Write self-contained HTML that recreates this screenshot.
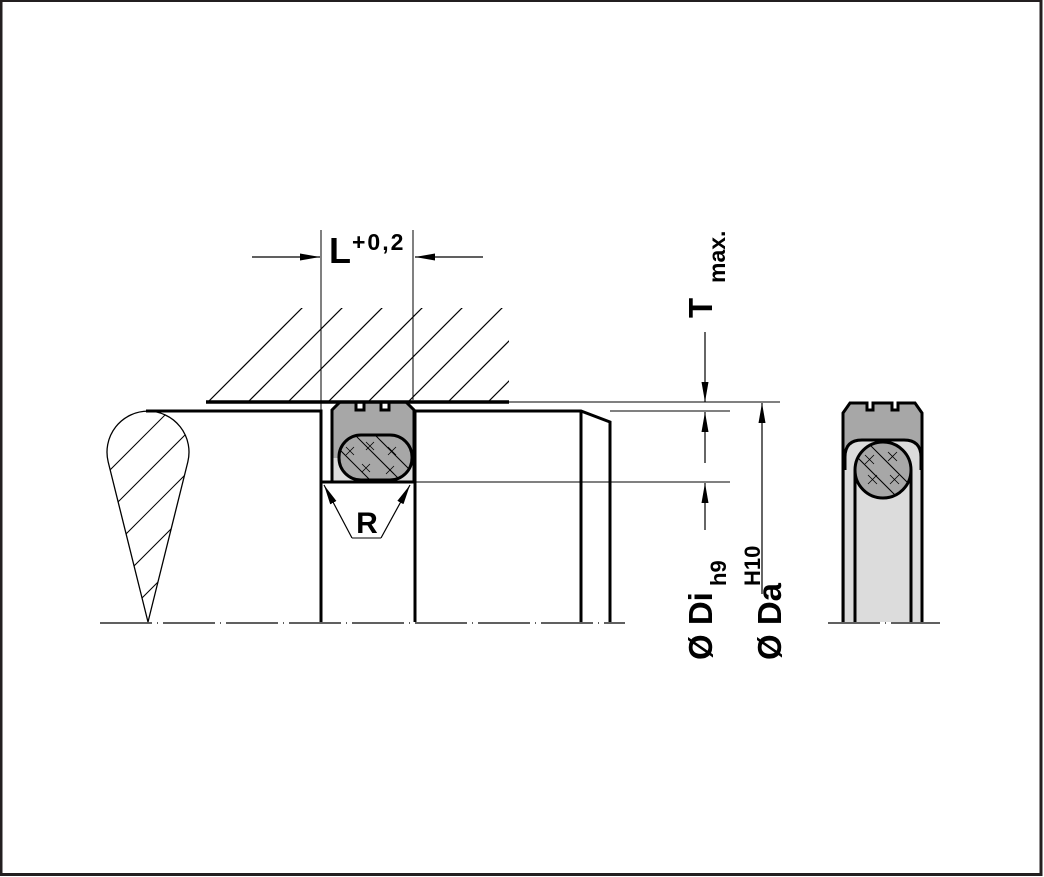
<!DOCTYPE html>
<html><head><meta charset="utf-8"><style>
html,body{margin:0;padding:0;background:#fff}
svg{display:block}
text{font-family:"Liberation Sans",Arial,sans-serif;font-weight:bold;fill:#000}
</style></head><body>
<svg width="1044" height="877" viewBox="0 0 1044 877" xmlns="http://www.w3.org/2000/svg">
<defs>
<marker id="ah" viewBox="0 0 20 7" refX="20" refY="3.5" markerWidth="20" markerHeight="7" markerUnits="userSpaceOnUse" orient="auto">
<path d="M0,0 L20,3.5 L0,7 Z" fill="#000"/></marker>
<clipPath id="hc"><rect x="206" y="308" width="303" height="93"/></clipPath>
<clipPath id="tc"><path d="M108.2,462 A41,41 0 1 1 187.8,462 L148,622 Z"/></clipPath>
<clipPath id="oc"><rect x="339" y="435" width="73" height="45" rx="22"/></clipPath>
<clipPath id="cc"><circle cx="883" cy="470" r="28"/></clipPath>
</defs>
<rect x="1" y="0.5" width="1040" height="874" fill="none" stroke="#231f20" stroke-width="3"/>

<g clip-path="url(#hc)" stroke="#000" stroke-width="1.2">
<line x1="150" y1="460" x2="310" y2="300"/>
<line x1="190" y1="460" x2="350" y2="300"/>
<line x1="230" y1="460" x2="390" y2="300"/>
<line x1="270" y1="460" x2="430" y2="300"/>
<line x1="310" y1="460" x2="470" y2="300"/>
<line x1="350" y1="460" x2="510" y2="300"/>
<line x1="390" y1="460" x2="550" y2="300"/>
<line x1="430" y1="460" x2="590" y2="300"/>
<line x1="470" y1="460" x2="630" y2="300"/>
<line x1="510" y1="460" x2="670" y2="300"/>
</g>

<g clip-path="url(#tc)" stroke="#000" stroke-width="1">
<line x1="100" y1="440" x2="170" y2="370"/>
<line x1="100" y1="480" x2="200" y2="380"/>
<line x1="100" y1="520" x2="200" y2="420"/>
<line x1="100" y1="560" x2="200" y2="460"/>
<line x1="100" y1="600" x2="200" y2="500"/>
<line x1="100" y1="640" x2="200" y2="540"/>
<line x1="100" y1="680" x2="200" y2="580"/>
</g>
<path d="M108.2,462 A41,41 0 1 1 187.8,462 L148,622 Z" fill="none" stroke="#000" stroke-width="1.3"/>

<line x1="100" y1="623" x2="625" y2="623" stroke="#000" stroke-width="1.3" stroke-dasharray="52 5 1 5"/>
<line x1="828" y1="623" x2="940" y2="623" stroke="#000" stroke-width="1.3" stroke-dasharray="52 5 1 5"/>

<path d="M332,482 L332,410 L340,402 L356,402 L356,410 L364,410 L364,402 L381,402 L381,410 L389,410 L389,402 L406,402 L414,410 L414,482 Z" fill="#a7a7a7"/>
<rect x="333" y="458" width="80" height="23" fill="#dcdcdc"/>
<rect x="339" y="435" width="73" height="45" rx="22" fill="#a7a7a7"/>
<g clip-path="url(#oc)" stroke="#000" stroke-width="1">
<line x1="330" y1="440" x2="380" y2="490"/>
<line x1="350" y1="430" x2="400" y2="480"/>
<line x1="370" y1="430" x2="420" y2="480"/>
<path d="M346,447 l8,8 M354,447 l-8,8 M366,442 l8,8 M374,442 l-8,8 M388,447 l8,8 M396,447 l-8,8 M362,464 l8,8 M370,464 l-8,8 M386,466 l8,8 M394,466 l-8,8" stroke-width="0.8"/>
</g>
<rect x="339" y="435" width="73" height="45" rx="22" fill="none" stroke="#000" stroke-width="3"/>
<path d="M332,482 L332,410 L340,402 L356,402 L356,410 L364,410 L364,402 L381,402 L381,410 L389,410 L389,402 L406,402 L414,410 L414,482" fill="none" stroke="#000" stroke-width="3"/>

<line x1="206" y1="402" x2="509" y2="402" stroke="#000" stroke-width="3.5"/>
<line x1="509" y1="402" x2="780" y2="402" stroke="#000" stroke-width="1"/>

<path d="M146,411 L321,411 L321,622" fill="none" stroke="#000" stroke-width="3"/>
<path d="M415,622 L415,411 L581,411 L610,422 L610,622" fill="none" stroke="#000" stroke-width="3"/>
<line x1="581" y1="411" x2="581" y2="622" stroke="#000" stroke-width="3"/>
<line x1="321" y1="482" x2="415" y2="482" stroke="#000" stroke-width="3"/>

<line x1="321" y1="230" x2="321" y2="410" stroke="#000" stroke-width="1"/>
<line x1="413" y1="230" x2="413" y2="400" stroke="#000" stroke-width="1"/>
<line x1="252" y1="257" x2="320" y2="257" stroke="#000" stroke-width="1.2" marker-end="url(#ah)"/>
<line x1="483" y1="257" x2="415" y2="257" stroke="#000" stroke-width="1.2" marker-end="url(#ah)"/>
<text x="329" y="263" font-size="36">L</text>
<text x="352" y="250" font-size="23" letter-spacing="2">+0,2</text>

<path d="M352,538 L381,538" fill="none" stroke="#000" stroke-width="1"/>
<line x1="352" y1="538" x2="324" y2="485" stroke="#000" stroke-width="1.2" marker-end="url(#ah)"/>
<line x1="381" y1="538" x2="410" y2="485" stroke="#000" stroke-width="1.2" marker-end="url(#ah)"/>
<text x="367" y="533" font-size="30" text-anchor="middle">R</text>

<line x1="610" y1="411" x2="730" y2="411" stroke="#000" stroke-width="1"/>
<line x1="415" y1="482" x2="730" y2="482" stroke="#000" stroke-width="1"/>
<line x1="705" y1="332" x2="705" y2="402" stroke="#000" stroke-width="1.2" marker-end="url(#ah)"/>
<line x1="705" y1="463" x2="705" y2="412" stroke="#000" stroke-width="1.2" marker-end="url(#ah)"/>
<line x1="705" y1="530" x2="705" y2="483" stroke="#000" stroke-width="1.2" marker-end="url(#ah)"/>
<line x1="762" y1="594" x2="762" y2="403" stroke="#000" stroke-width="1.2" marker-end="url(#ah)"/>

<text transform="translate(712,318) rotate(-90)" font-size="33">T</text>
<text transform="translate(725,283) rotate(-90)" font-size="23">max.</text>
<text transform="translate(712,660) rotate(-90)" font-size="33">Ø Di</text>
<text transform="translate(726,586) rotate(-90)" font-size="22">h9</text>
<text transform="translate(781,660) rotate(-90)" font-size="33">Ø Da</text>
<text transform="translate(760,586) rotate(-90)" font-size="22">H10</text>

<path d="M843,622 L843,413 L850,403 L867,403 L867,410 L873,410 L873,403 L892,403 L892,410 L898,410 L898,403 L915,403 L922,413 L922,622 Z" fill="#a7a7a7"/>
<path d="M845,622 L845,457 Q845,440 862,440 L904,440 Q921,440 921,457 L921,622 Z" fill="#dcdcdc"/>
<path d="M845,470 L845,457 Q845,440 862,440 L904,440 Q921,440 921,457 L921,470" fill="none" stroke="#000" stroke-width="3"/>
<circle cx="883" cy="470" r="28" fill="#a7a7a7"/>
<g clip-path="url(#cc)" stroke="#000" stroke-width="1">
<line x1="850" y1="450" x2="900" y2="500"/>
<line x1="865" y1="440" x2="915" y2="490"/>
<path d="M865,455 l9,9 M874,455 l-9,9 M888,452 l9,9 M897,452 l-9,9 M868,475 l9,9 M877,475 l-9,9 M890,475 l9,9 M899,475 l-9,9" stroke-width="0.8"/>
</g>
<circle cx="883" cy="470" r="28" fill="none" stroke="#000" stroke-width="3"/>
<line x1="855" y1="470" x2="855" y2="622" stroke="#000" stroke-width="3"/>
<line x1="911" y1="470" x2="911" y2="622" stroke="#000" stroke-width="3"/>
<path d="M843,622 L843,413 L850,403 L867,403 L867,410 L873,410 L873,403 L892,403 L892,410 L898,410 L898,403 L915,403 L922,413 L922,622" fill="none" stroke="#000" stroke-width="3"/>
</svg>
</body></html>
